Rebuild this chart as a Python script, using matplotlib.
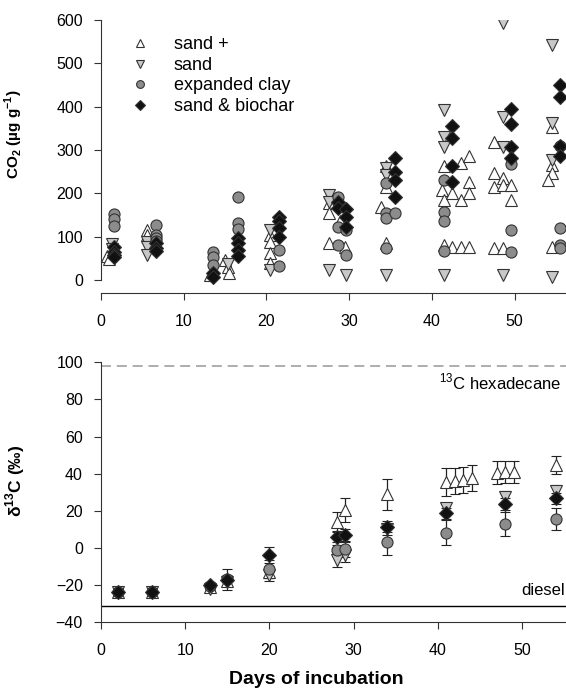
import matplotlib
matplotlib.use('Agg')
import matplotlib.pyplot as plt

plt.rcParams['font.family'] = ['Liberation Sans', 'DejaVu Sans']
plt.rcParams['mathtext.fontset'] = 'custom'
plt.rcParams['mathtext.rm'] = 'Liberation Sans'
plt.rcParams['mathtext.bf'] = 'Liberation Sans:bold'

# CO2 - valores individuais (dia, valor)
sandplus_dia = [0.7, 1.0, 5.6, 5.6, 13.2, 15.0, 15.3, 15.5, 20.4, 20.4, 20.4, 20.4,
                27.5, 27.5, 28.9, 27.5, 29.5, 33.9, 34.5, 34.5, 34.5,
                41.2, 41.4, 41.4, 41.4, 42.4, 42.4, 43.5, 43.5, 43.5, 44.5, 44.5, 44.5, 44.5,
                47.5, 47.5, 47.5, 47.5, 48.6, 48.6, 48.6, 49.6, 49.6,
                54.5, 54.5, 54.5, 54.0, 54.5]
sandplus_co2 = [55, 48, 115, 104, 12, 46, 31, 15, 104, 88, 62, 39,
                177, 154, 135, 85, 77, 169, 262, 215, 86,
                208, 264, 185, 80, 201, 76, 269, 185, 76, 285, 227, 201, 76,
                319, 246, 214, 73, 235, 219, 73, 219, 185,
                354, 265, 248, 231, 77]

sand_dia = [1.3, 1.3, 5.6, 5.6, 5.6, 15.3, 20.4, 20.4, 27.5, 27.5, 27.5, 29.6,
            34.5, 34.5, 34.5, 41.4, 41.4, 41.4, 41.4, 48.6, 48.6, 48.6, 48.6,
            54.5, 54.5, 54.5, 54.5]
sand_co2 = [82, 72, 88, 75, 58, 38, 115, 23, 196, 181, 23, 12,
            258, 242, 12, 392, 331, 308, 12, 592, 377, 308, 12,
            542, 362, 277, 8]

argila_dia = [1.6, 1.6, 1.6, 6.6, 6.6, 6.6, 6.6, 13.5, 13.5, 13.5, 16.5, 16.5, 16.5,
              21.5, 21.5, 28.6, 28.6, 28.6, 29.6, 29.6, 34.5, 34.5, 34.5, 35.5, 34.5,
              41.4, 41.4, 41.4, 41.4, 49.6, 49.6, 49.6, 55.5, 55.5, 55.5, 55.5]
argila_co2 = [152, 141, 125, 127, 104, 97, 90, 65, 54, 35, 191, 131, 117,
              69, 32, 192, 123, 81, 115, 58, 223, 154, 142, 155, 73,
              231, 158, 137, 68, 268, 115, 65, 309, 119, 81, 73]

biochar_dia = [1.6, 1.6, 1.6, 1.6, 6.6, 6.6, 6.6, 13.5, 13.5, 16.5, 16.5, 16.5, 16.5,
               21.5, 21.5, 21.5, 21.5, 28.6, 28.6, 29.6, 29.6, 29.6,
               35.5, 35.5, 35.5, 35.5, 42.4, 42.4, 42.4, 42.4,
               49.6, 49.6, 49.6, 49.6, 55.5, 55.5, 55.5, 55.5]
biochar_co2 = [75, 65, 57, 52, 85, 74, 67, 15, 6, 97, 85, 70, 55,
               145, 135, 120, 100, 181, 166, 164, 146, 123,
               281, 250, 231, 192, 355, 327, 264, 227,
               394, 359, 308, 281, 450, 423, 309, 285]

# delta 13C - medias e erros
sandplus_d13_dia = [2, 6, 13, 15, 20, 28, 29, 34, 41, 42, 43, 44, 47, 48, 49, 54]
sandplus_d13 = [-23.5, -23.5, -21, -18, -13, 14.2, 20.5, 29, 35.4, 36.1, 36.6, 37.5, 40.6, 41.1, 41.1, 44.7]
sandplus_d13_err = [1, 1, 1.5, 2, 3, 5.4, 6.3, 8.4, 7.5, 7, 7, 7, 6.2, 6, 6, 5]

d13_dia = [2, 6, 13, 15, 20, 28, 29, 34, 41, 48, 54]
sand_d13 = [-23.5, -23.5, -22, -18.5, -14.5, -6.5, -4, 10, 21.4, 27.6, 30.9]
sand_d13_err = [1, 1, 1.5, 2, 3, 3.5, 3.5, 3, 3, 3, 3]
argila_d13 = [-23.5, -23.5, -20.5, -16.5, -11.3, -1.1, -0.7, 3.4, 8.3, 12.9, 15.6]
argila_d13_err = [1, 1, 1.5, 2, 5, 3, 4, 7, 6.7, 6.3, 6]
biochar_d13 = [-23.5, -23.5, -20, -17, -3.8, 6.1, 7.0, 11.5, 18.7, 23.7, 26.8]
biochar_d13_err = [1, 1, 1.5, 5.7, 4.5, 3, 3, 3, 3, 3, 3]

hexadecano = 98
diesel = -31

estilos = {
    'sand +': dict(marker='^', mfc='white', ms=8.5),
    'sand': dict(marker='v', mfc='#c8c8c8', ms=8.5),
    'expanded clay': dict(marker='o', mfc='#8c8c8c', ms=8),
    'sand & biochar': dict(marker='D', mfc='#111111', ms=7.3),
}

fig = plt.figure(figsize=(5.66, 6.92), dpi=100)
ax1 = fig.add_axes([0.1784, 0.5766, 0.8216, 0.3945])
ax2 = fig.add_axes([0.1784, 0.1007, 0.8216, 0.3757])

# painel superior - CO2
series_co2 = [('sand +', sandplus_dia, sandplus_co2),
              ('sand', sand_dia, sand_co2),
              ('expanded clay', argila_dia, argila_co2),
              ('sand & biochar', biochar_dia, biochar_co2)]
for nome, d, v in series_co2:
    st = estilos[nome]
    ax1.plot(d, v, linestyle='none', marker=st['marker'], ms=st['ms'], mfc=st['mfc'],
             mec='#333333', mew=0.8, label=nome)

ax1.set_xlim(0, 56.2)
ax1.set_ylim(-30, 600)
ax1.set_xticks([0, 10, 20, 30, 40, 50])
ax1.set_yticks([0, 100, 200, 300, 400, 500, 600])
ax1.spines['left'].set_bounds(0, 600)
ax1.set_ylabel('CO$_\\mathbf{2}$ (µg g$^{\\mathbf{-1}}$)', fontsize=11, fontweight='bold')
ax1.yaxis.set_label_coords(-0.163, 0.58)
leg = ax1.legend(loc='upper left', bbox_to_anchor=(0.03, 1.0), frameon=False, fontsize=13,
                 markerscale=0.7, handletextpad=1.35, labelspacing=0.2, handlelength=1.0)

# painel inferior - delta 13C
series_d13 = [('sand +', sandplus_d13_dia, sandplus_d13, sandplus_d13_err),
              ('sand', d13_dia, sand_d13, sand_d13_err),
              ('expanded clay', d13_dia, argila_d13, argila_d13_err),
              ('sand & biochar', d13_dia, biochar_d13, biochar_d13_err)]
for nome, d, v, e in series_d13:
    st = estilos[nome]
    ax2.errorbar(d, v, yerr=e, linestyle='none', marker=st['marker'], ms=st['ms'], mfc=st['mfc'],
                 mec='#333333', mew=0.8, ecolor='#222222', elinewidth=0.9, capsize=3.5, capthick=0.9)

ax2.axhline(hexadecano, color='#a0a0a0', linestyle=(0, (6, 3.5)), linewidth=1.2, zorder=0)
ax2.axhline(diesel, color='black', linewidth=1.0, zorder=0)
ax2.text(54.6, hexadecano - 3, '$^{13}$C hexadecane', ha='right', va='top', fontsize=12)
ax2.text(55.1, diesel + 4, 'diesel', ha='right', va='bottom', fontsize=12)

ax2.set_xlim(0, 55.2)
ax2.set_ylim(-40, 100)
ax2.set_xticks([0, 10, 20, 30, 40, 50])
ax2.set_yticks([-40, -20, 0, 20, 40, 60, 80, 100])
ax2.set_ylabel('δ$^{\\mathbf{13}}$C (‰)', fontsize=12.5, fontweight='bold')
ax2.yaxis.set_label_coords(-0.159, 0.543)

for ax in [ax1, ax2]:
    ax.spines['top'].set_visible(False)
    ax.spines['right'].set_visible(False)
    ax.spines['left'].set_color('#333333')
    ax.spines['bottom'].set_color('#333333')
    ax.tick_params(direction='out', length=5, width=0.8, color='#333333', labelsize=11.5)
    ax.tick_params(axis='x', pad=10)
    ax.tick_params(axis='y', pad=8)

fig.text(316 / 566, 1 - 680 / 692, 'Days of incubation', ha='center', va='center',
         fontsize=14, fontweight='bold')

plt.savefig('out.png', dpi=100)
